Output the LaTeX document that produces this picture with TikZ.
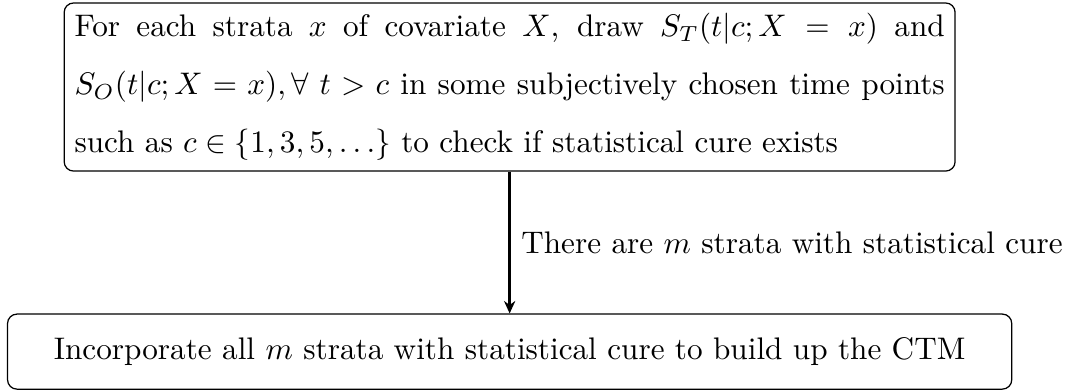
\documentclass[tikz,border=0pt]{standalone}
\usepackage{amsmath}
\usepackage{tikz}
\usetikzlibrary{positioning, arrows.meta}

\begin{document}
\begin{tikzpicture}[
                box/.style={draw, rounded corners=3pt, inner sep=3.33pt},
                check/.style={box, text width=9.8cm, align=justify, font=\linespread{1.55}\selectfont},
                build/.style={box, minimum width=11.31cm, minimum height=0.845cm, align=center},
                arr/.style={-{Stealth[length=4pt, width=3.6pt]}, thick},
            ]

            \useasboundingbox (0,0) rectangle (12.04,-4.405);

            % Check step and model step:
            \node[check] (chk) at (5.74, -0.98) {For each strata $x$ of covariate $X$, draw $S_T(t|c;X = x)$ and $S_O(t|c;X=x),\forall\ t>c$ in some subjectively chosen time points such as $c\in\{1,3,5,\ldots\}$ to check if statistical cure exists};
            \node[build] (ctm) at (5.74, -3.96) {Incorporate all $m$ strata with statistical cure to build up the CTM};

            % Arrow with its label on the right:
            \draw[arr] (chk) -- node[right] {There are $m$ strata with statistical cure} (ctm);
        \end{tikzpicture}
\end{document}
